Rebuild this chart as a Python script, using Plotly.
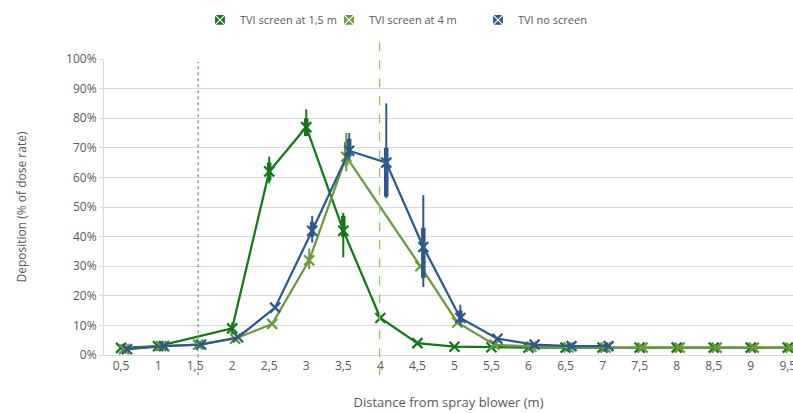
import plotly.graph_objects as go

# ---------------- data ----------------
distance = [0.5, 1, 1.5, 2, 2.5, 3, 3.5, 4, 4.5, 5, 5.5, 6, 6.5, 7, 7.5, 8, 8.5, 9, 9.5]
tick_labels = ["0,5", "1", "1,5", "2", "2,5", "3", "3,5", "4", "4,5", "5", "5,5",
               "6", "6,5", "7", "7,5", "8", "8,5", "9", "9,5"]

series_names = ["TVI screen at 1,5 m", "TVI screen at 4 m", "TVI no screen"]

screen_15 = [2.4, 3, None, 9, 62, 77, 42, 12.5, 4, 2.8, 2.6, 2.5, 2.5, 2.5, 2.5, 2.5, 2.5, 2.5, 2.5]
screen_4 = [2.0, 3, 3.5, 5.5, 10.5, 32, 67, None, 30, 11, 3.5, 2.8, 2.6, 2.5, 2.5, 2.5, 2.5, 2.5, 2.5]
no_screen = [2.0, 3, 3.5, 6, 16, 42, 69, 65, 36.5, 12.5, 5.5, 3.5, 3, 3, None, None, None, None, None]

# error ranges (low, high) – thin = full range, thick = inner range
screen_15_thin_lo = [None, None, None, 7, 58, 74, 33, None, None, None, None, None, None, None, None, None, None, None, None]
screen_15_thin_hi = [None, None, None, 11, 67, 83, 48, None, None, None, None, None, None, None, None, None, None, None, None]
screen_15_thick_lo = [None, None, None, None, 59, 74, 40, None, None, None, None, None, None, None, None, None, None, None, None]
screen_15_thick_hi = [None, None, None, None, 65, 80, 47, None, None, None, None, None, None, None, None, None, None, None, None]

screen_4_thin_lo = [None, None, None, None, None, 29, 62, None, None, None, None, None, None, None, None, None, None, None, None]
screen_4_thin_hi = [None, None, None, None, None, 36, 75, None, None, None, None, None, None, None, None, None, None, None, None]
screen_4_thick_lo = [None, None, None, None, None, None, 64, None, None, None, None, None, None, None, None, None, None, None, None]
screen_4_thick_hi = [None, None, None, None, None, None, 72, None, None, None, None, None, None, None, None, None, None, None, None]

no_screen_thin_lo = [None, None, None, None, None, 38, 66, 53, 23, 10, None, None, None, None, None, None, None, None, None]
no_screen_thin_hi = [None, None, None, None, None, 47, 75, 85, 54, 17, None, None, None, None, None, None, None, None, None]
no_screen_thick_lo = [None, None, None, None, None, 40, 67, 53.5, 26, 11, None, None, None, None, None, None, None, None, None]
no_screen_thick_hi = [None, None, None, None, None, 45, 73, 70, 43, 15, None, None, None, None, None, None, None, None, None]

screen_positions = [1.5, 4]

# ---------------- style ----------------
colors = ["#117a17", "#6b9a3d", "#2c5a8a"]
x_shift = [0.0, 0.04, 0.08]
screen_line_colors = ["#5f9e4f", "#7ccf4c"]
screen_line_shift = [0.04, -0.01]
screen_line_top = [0.99, 1.088]
legend_x_px = [200, 329, 478]
font_family = "Open Sans, Segoe UI, Arial"
text_color = "#595959"
grid_color = "#d9d9d9"
W, H = 793, 413

fig = go.Figure()


def err(vals, lo, hi):
    plus, minus = [], []
    for v, l, h in zip(vals, lo, hi):
        if v is None or l is None:
            plus.append(0)
            minus.append(0)
        else:
            plus.append(h - v)
            minus.append(v - l)
    return plus, minus


all_series = [
    (screen_15, screen_15_thin_lo, screen_15_thin_hi, screen_15_thick_lo, screen_15_thick_hi),
    (screen_4, screen_4_thin_lo, screen_4_thin_hi, screen_4_thick_lo, screen_4_thick_hi),
    (no_screen, no_screen_thin_lo, no_screen_thin_hi, no_screen_thick_lo, no_screen_thick_hi),
]

for i, (vals, tlo, thi, klo, khi) in enumerate(all_series):
    xs = [d + x_shift[i] for d in distance]
    c = colors[i]
    p, m = err(vals, tlo, thi)
    fig.add_trace(go.Scatter(
        x=xs, y=vals, mode="markers", marker=dict(size=1, opacity=0),
        error_y=dict(type="data", symmetric=False, array=p, arrayminus=m,
                     color=c, thickness=2, width=0),
        showlegend=False, hoverinfo="skip"))
    p, m = err(vals, klo, khi)
    fig.add_trace(go.Scatter(
        x=xs, y=vals, mode="markers", marker=dict(size=1, opacity=0),
        error_y=dict(type="data", symmetric=False, array=p, arrayminus=m,
                     color=c, thickness=4.5, width=0),
        showlegend=False, hoverinfo="skip"))
    fig.add_trace(go.Scatter(
        x=xs, y=vals, mode="lines+markers", connectgaps=True,
        line=dict(color=c, width=2.25),
        marker=dict(symbol="x-thin", size=10, line=dict(color=c, width=2.25), color=c),
        name=series_names[i], showlegend=False))

# legend-only entries, one legend each so spacing can follow the original
legend_keys = ["legend", "legend2", "legend3"]
for i, name in enumerate(series_names):
    fig.add_trace(go.Scatter(
        x=[None], y=[None], mode="markers", name=name, legend=legend_keys[i],
        showlegend=True,
        marker=dict(symbol="square-x", size=11, color=colors[i],
                    line=dict(color="white", width=1.2))))

# screen position lines
for j, pos in enumerate(screen_positions):
    fig.add_shape(type="line", xref="x", yref="paper",
                  x0=pos + screen_line_shift[j], x1=pos + screen_line_shift[j],
                  y0=-0.068, y1=screen_line_top[j],
                  line=dict(color=screen_line_colors[j], width=1.2,
                            dash="dot" if j == 0 else "dash"))

legend_common = dict(orientation="h", xref="container", yref="container",
                     xanchor="left", y=0.987, yanchor="top",
                     font=dict(size=11, color=text_color), bgcolor="rgba(0,0,0,0)")
layout_legends = {}
for i, key in enumerate(legend_keys):
    layout_legends[key] = dict(legend_common, x=legend_x_px[i] / W)

fig.update_layout(
    width=W, height=H,
    margin=dict(l=104, r=0, t=59, b=58),
    paper_bgcolor="white", plot_bgcolor="white",
    font=dict(family=font_family, size=12, color=text_color),
    showlegend=True,
    xaxis=dict(range=[0.27, 9.57], tickvals=distance, ticktext=tick_labels,
               showgrid=False, zeroline=False, showline=True, linecolor=grid_color,
               ticks="", automargin=False, ticklabeloverflow="allow",
               tickfont=dict(size=12, color=text_color),
               title=dict(text="Distance from spray blower (m)", standoff=24,
                          font=dict(size=13, color=text_color))),
    yaxis=dict(range=[0, 100], dtick=10, ticksuffix="%",
               showgrid=True, gridcolor=grid_color, gridwidth=1,
               zeroline=False, showline=True, linecolor=grid_color,
               ticks="outside", ticklen=4, tickcolor=grid_color, automargin=False,
               tickfont=dict(size=12, color=text_color),
               title=dict(text="Deposition (% of dose rate)", standoff=36,
                          font=dict(size=12, color=text_color))),
    **layout_legends,
)

fig.write_html("out.html", config={"displayModeBar": False},
               post_script="document.body.style.margin='0px';")
